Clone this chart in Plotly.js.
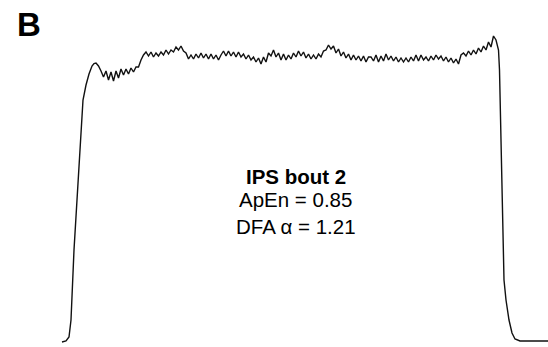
<!DOCTYPE html>
<html>
<head>
<meta charset="utf-8">
<script src="https://cdn.plot.ly/plotly-3.0.1.min.js"></script>
<style>html,body{margin:0;padding:0;background:#fff;}#chart{width:548px;height:347px;}</style>
</head>
<body>
<div id="chart"></div>
<script>
// Force trace, time in ms, force in N
var riseTime  = [0, 200, 350, 450, 600, 750, 900, 1050, 1200, 1350, 1500, 1600];
var riseForce = [-0.2, -0.1, 0.3, 2.0, 9.0, 14.0, 19.0, 24.0, 25.5, 26.6, 27.4, 27.65];

var plateauTime = [
 1700,1825,1950,2075,2200,2325,2450,2575,2700,2825,
 2950,3075,3200,3325,3450,3575,3700,3825,3950,4075,
 4200,4325,4450,4575,4700,4825,4950,5075,5200,5325,
 5450,5575,5700,5825,5950,6075,6200,6325,6450,6575,
 6700,6825,6950,7075,7200,7325,7450,7575,7700,7825,
 7950,8075,8200,8325,8450,8575,8700,8825,8950,9075,
 9200,9325,9450,9575,9700,9825,9950,10075,10200,10325,
 10450,10575,10700,10825,10950,11075,11200,11325,11450,11575,
 11700,11825,11950,12075,12200,12325,12450,12575,12700,12825,
 12950,13075,13200,13325,13450,13575,13700,13825,13950,14075,
 14200,14325,14450,14575,14700,14825,14950,15075,15200,15325,
 15450,15575,15700,15825,15950,16075,16200,16325,16450,16575,
 16700,16825,16950,17075,17200,17325,17450,17575,17700,17825,
 17950,18075,18200,18325,18450,18575,18700,18825,18950,19075,
 19200,19325,19450,19575,19700,19825,19950,20075,20200,20325,
 20450,20575,20700,20825,20950,21075,21200,21325,21450,21575,
 21700,21825
];
var plateauForce = [
 27.7,27.4,26.9,26.3,26.9,26.0,26.8,25.9,26.9,26.2,
 27.1,26.5,27.1,26.6,27.2,26.8,27.3,27.3,28.0,28.5,
 28.8,28.4,28.8,28.3,28.7,28.4,28.8,28.5,29.0,28.6,
 29.0,28.8,29.3,29.0,29.4,28.9,28.7,28.1,28.5,28.1,
 28.6,28.2,28.7,28.2,28.6,28.1,28.6,28.1,28.5,28.0,
 28.5,28.9,28.4,28.9,28.4,28.8,28.3,28.8,28.3,28.6,
 28.1,28.5,28.0,28.3,27.8,28.2,27.6,28.3,27.8,28.7,
 28.4,29.0,28.3,28.7,28.0,28.6,28.0,28.5,28.1,28.7,
 28.3,28.9,28.4,28.8,28.2,28.6,28.1,28.5,28.1,28.6,
 28.3,28.9,29.0,29.5,29.1,29.4,28.7,29.1,28.4,28.8,
 28.2,28.6,28.0,28.5,28.0,28.4,27.9,28.4,27.8,28.3,
 28.3,27.9,28.5,27.8,28.4,27.9,28.6,28.0,28.4,27.9,
 28.3,27.8,28.2,27.8,28.2,27.8,28.3,27.9,28.5,27.9,
 28.5,28.0,28.3,27.9,28.4,28.0,28.5,28.1,28.4,27.9,
 28.3,27.8,28.2,27.7,28.1,27.6,28.5,28.7,28.4,28.9,
 28.5,29.0,28.6,29.2,28.8,29.4,29.0,29.8,29.3,30.4,
 30.0,29.0
];

var fallTime  = [21875, 21925, 21975, 22025, 22100, 22200, 22350, 22500, 22650, 22900, 23400, 24300];
var fallForce = [27.0, 22.0, 16.0, 10.0, 6.0, 4.0, 2.0, 0.7, 0.1, -0.1, -0.1, -0.1];

var panelLabel = "B";
var statLines = ["<b>IPS bout 2</b>", "ApEn = 0.85", "DFA \u03b1 = 1.21"];

var t = riseTime.concat(plateauTime, fallTime);
var f = riseForce.concat(plateauForce, fallForce);

var font = "Liberation Sans, Arial, Helvetica, sans-serif";

var trace = {
  x: t, y: f, type: "scatter", mode: "lines",
  line: {color: "#111111", width: 1.4},
  hoverinfo: "skip"
};

var statY = [0.490, 0.424, 0.347];
var annotations = [
  {text: "<b>" + panelLabel + "</b>", xref: "paper", yref: "paper", x: 0.028, y: 0.928,
   xanchor: "left", yanchor: "middle", showarrow: false, font: {family: font, size: 33, color: "#000"}}
];
for (var i = 0; i < statLines.length; i++) {
  annotations.push({text: statLines[i], xref: "paper", yref: "paper", x: 0.540, y: statY[i],
    xanchor: "center", yanchor: "middle", showarrow: false,
    font: {family: font, size: 20.5, color: "#000"}});
}

var layout = {
  width: 548, height: 347,
  margin: {l: 0, r: 0, t: 0, b: 0},
  paper_bgcolor: "#fff", plot_bgcolor: "#fff",
  showlegend: false,
  xaxis: {range: [-3100, 24300], visible: false, fixedrange: true},
  yaxis: {range: [-0.7, 34], visible: false, fixedrange: true},
  annotations: annotations
};

Plotly.newPlot("chart", [trace], layout, {staticPlot: true, displayModeBar: false});
</script>
</body>
</html>
